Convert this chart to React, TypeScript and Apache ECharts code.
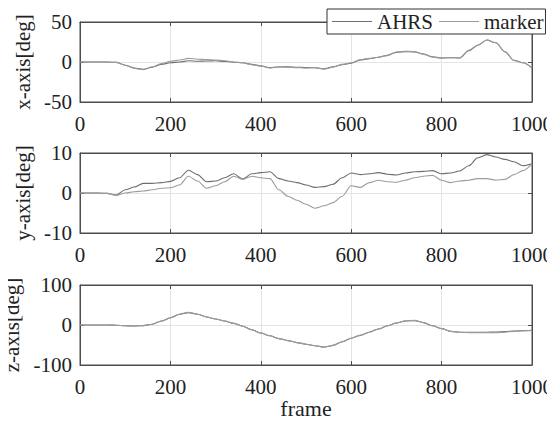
import React, { useEffect, useRef } from "react";
import * as echarts from "echarts";

// Frame index, sampled every 20 frames
const frames: number[] = Array.from({ length: 51 }, (_, i) => i * 20);

const xTicks = [0, 200, 400, 600, 800, 1000];

// x-axis angle [deg]
const ahrsX = [0, 0, 0, 0, -0.5, -4, -7.5, -9, -6.5, -3, -1, 0, 1.5, 1, 1.2, 1.5, 0.8, -0.3, -1, -3, -4.8, -7, -6.2, -6, -6.5, -7, -7.2, -8.5, -6, -3.5, -1.5, 2.5, 4, 6, 8.5, 12, 13, 12.5, 10, 6.5, 5, 5.5, 5, 14, 21, 27.5, 24, 13, 2, -1, -7.5];
const markerX = [0, 0, 0, 0, -0.5, -4, -8, -9.5, -6, -2, 1, 2.5, 4.5, 3.5, 3, 2.5, 1.5, 0, -1, -3.5, -5, -7.5, -6, -6.5, -7, -7.5, -7, -9, -6.5, -3, -1, 3, 4.5, 6, 8, 12.5, 13.5, 13, 9.5, 6, 5, 5.5, 5, 14.5, 21, 27.5, 24, 13, 2, -1, -7.5];

// y-axis angle [deg]
const ahrsY = [0, 0, 0, -0.1, -0.5, 0.8, 1.5, 2.4, 2.4, 2.6, 2.9, 3.8, 5.7, 4.6, 2.8, 3, 3.8, 4.8, 3.5, 4.8, 5.1, 5.3, 3.6, 3, 2.6, 2, 1.4, 1.6, 2.2, 3.8, 5, 4.6, 4.8, 5.1, 4.7, 4.5, 5, 5.3, 5.4, 5.6, 4.8, 5, 5.5, 6.8, 8.8, 9.6, 9, 8.4, 7.8, 6.8, 7.3];
const markerY = [0, 0, 0, -0.1, -0.6, 0, 0.3, 0.5, 0.8, 1.2, 1.3, 2, 4.2, 3, 1.2, 1.8, 2.8, 4.2, 3.4, 4.2, 3.8, 3.6, 0.8, -0.8, -1.8, -2.8, -3.8, -3.2, -2.4, -0.8, 1.8, 1.4, 2.6, 3.2, 2.8, 2.7, 3.2, 3.8, 4.2, 4.4, 3.2, 2.6, 3, 3.2, 3.6, 3.6, 3.2, 3.4, 4.6, 5.6, 7.3];

// z-axis angle [deg]
const ahrsZ = [0, 0, 0, 0, -0.5, -2, -2.5, -1.5, 2, 10, 18, 27, 31, 27, 20, 15, 10, 4, -3, -12, -20, -27, -34, -39, -44, -48, -52, -55, -51, -42, -33, -26, -18, -10, -2, 5, 10, 11, 6, -2, -9, -16, -18, -18, -18, -18, -17.5, -16.5, -15, -14, -13];
const markerZ = [0, 0, 0, 0, -0.5, -2, -2.5, -1.5, 2, 10, 18, 27, 31.5, 27, 20, 15, 10, 4, -3, -12, -20, -27, -34, -39, -44, -48, -52, -55.5, -51, -42, -33, -26, -18, -10, -2, 5, 10.5, 11.5, 6, -2, -9, -16, -18.5, -19, -19.5, -19.5, -19, -18, -16, -14.5, -13.5];

const panels = [
  { name: "x-axis[deg]", min: -50, max: 50, step: 50, ahrs: ahrsX, marker: markerX },
  { name: "y-axis[deg]", min: -10, max: 10, step: 10, ahrs: ahrsY, marker: markerY },
  { name: "z-axis[deg]", min: -100, max: 100, step: 100, ahrs: ahrsZ, marker: markerZ },
];

const FONT = "Liberation Serif";
const AXIS_COLOR = "#4d4d4d";
const AHRS_COLOR = "#6e6e6e";
const MARKER_COLOR = "#9c9c9c";
const TEXT = { color: "#222", fontFamily: FONT, fontSize: 21 };

export default function App() {
  const ref = useRef<HTMLDivElement>(null);

  useEffect(() => {
    if (!ref.current) return;
    const chart = echarts.init(ref.current, undefined, { renderer: "svg" });

    const tops = [22, 153, 285];
    const grid = tops.map((top) => ({
      left: 80,
      right: 23,
      top,
      height: 80,
      show: true,
      borderColor: AXIS_COLOR,
      borderWidth: 1,
      backgroundColor: "#fff",
      containLabel: false,
      outerBoundsMode: "none",
    }));

    const xAxis: any[] = [];
    const yAxis: any[] = [];
    const series: any[] = [];

    panels.forEach((p, i) => {
      xAxis.push({
        type: "value",
        gridIndex: i,
        min: 0,
        max: 1000,
        interval: 200,
        position: "bottom",
        axisLine: { show: true, onZero: false, lineStyle: { color: AXIS_COLOR } },
        axisTick: { show: true, inside: true, length: 4, lineStyle: { color: AXIS_COLOR } },
        axisLabel: {
          show: true,
          margin: 11,
          ...TEXT,
          formatter: (v: number) => (xTicks.includes(v) ? String(v) : ""),
        },
        splitLine: { show: true, lineStyle: { color: "#e4e4e4" } },
        name: i === 2 ? "frame" : "",
        nameLocation: "middle",
        nameGap: 31,
        nameTextStyle: { ...TEXT, fontSize: 22 },
      });
      xAxis.push({
        type: "value",
        gridIndex: i,
        min: 0,
        max: 1000,
        interval: 200,
        position: "top",
        axisLine: { show: true, onZero: false, lineStyle: { color: AXIS_COLOR } },
        axisTick: { show: true, inside: true, length: 4, lineStyle: { color: AXIS_COLOR } },
        axisLabel: { show: false },
        splitLine: { show: false },
      });
      yAxis.push({
        type: "value",
        gridIndex: i,
        min: p.min,
        max: p.max,
        interval: p.step,
        position: "left",
        axisLine: { show: true, onZero: false, lineStyle: { color: AXIS_COLOR } },
        axisTick: { show: true, inside: true, length: 4, lineStyle: { color: AXIS_COLOR } },
        axisLabel: { margin: 8, ...TEXT },
        splitLine: { show: true, lineStyle: { color: "#e4e4e4" } },
        name: p.name,
        nameLocation: "middle",
        nameGap: 44,
        nameRotate: 90,
        nameTextStyle: { ...TEXT },
      });
      yAxis.push({
        type: "value",
        gridIndex: i,
        min: p.min,
        max: p.max,
        interval: p.step,
        position: "right",
        axisLine: { show: true, onZero: false, lineStyle: { color: AXIS_COLOR } },
        axisTick: { show: true, inside: true, length: 4, lineStyle: { color: AXIS_COLOR } },
        axisLabel: { show: false },
        splitLine: { show: false },
      });

      const mk = (name: string, vals: number[], color: string) => ({
        name,
        type: "line",
        xAxisIndex: i * 2,
        yAxisIndex: i * 2,
        data: frames.map((f, k) => [f, vals[k]]),
        symbol: "none",
        smooth: 0.3,
        smoothMonotone: "x",
        lineStyle: { color, width: 1.1 },
        itemStyle: { color },
        z: 3,
      });
      series.push(mk("AHRS", p.ahrs, AHRS_COLOR));
      series.push(mk("marker", p.marker, MARKER_COLOR));
    });

    chart.setOption({
      animation: false,
      backgroundColor: "#fff",
      textStyle: { fontFamily: FONT },
      grid,
      xAxis,
      yAxis,
      series,
      legend: {
        data: ["AHRS", "marker"],
        left: 327,
        top: 9,
        orient: "horizontal",
        icon: "rect",
        itemWidth: 40,
        itemHeight: 1,
        itemGap: 6,
        padding: [2, 2, 2, 5],
        backgroundColor: "#fff",
        borderColor: "#333",
        borderWidth: 1,
        textStyle: { ...TEXT },
        z: 10,
      },
    });

    return () => chart.dispose();
  }, []);

  return <div ref={ref} style={{ width: 555, height: 427, margin: -8 }} />;
}
